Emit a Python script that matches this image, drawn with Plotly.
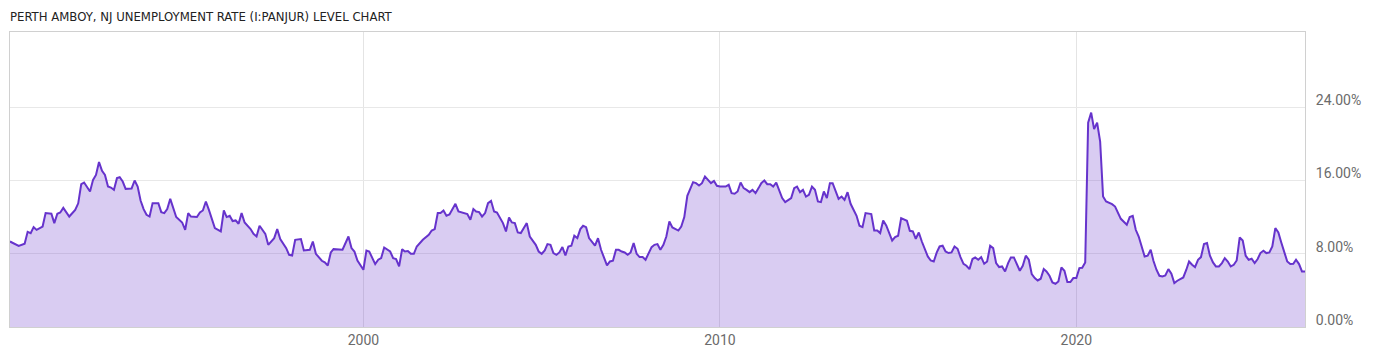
import plotly.graph_objects as go

# Monthly unemployment rate readings (percent)
dates = [
    "1990-02", "1990-04", "1990-05", "1990-07", "1990-08", "1990-09", "1990-10", "1990-11",
    "1991-01", "1991-02", "1991-04", "1991-05", "1991-06", "1991-07", "1991-08", "1991-10", "1991-12",
    "1992-01", "1992-02", "1992-03", "1992-05", "1992-06", "1992-07", "1992-08", "1992-09", "1992-10", "1992-11", "1992-12",
    "1993-01", "1993-02", "1993-03", "1993-04", "1993-05", "1993-07", "1993-08", "1993-09", "1993-10", "1993-11", "1993-12",
    "1994-01", "1994-02", "1994-04", "1994-05", "1994-06", "1994-07", "1994-08", "1994-09", "1994-10", "1994-12",
    "1995-01", "1995-02", "1995-03", "1995-05", "1995-06", "1995-07", "1995-08", "1995-09", "1995-11",
    "1996-01", "1996-02", "1996-03", "1996-04", "1996-05", "1996-06", "1996-07", "1996-08", "1996-09", "1996-11", "1996-12",
    "1997-01", "1997-02", "1997-04", "1997-05", "1997-07", "1997-08", "1997-09", "1997-11", "1997-12",
    "1998-01", "1998-02", "1998-04", "1998-05", "1998-07", "1998-08", "1998-09", "1998-11", "1998-12",
    "1999-01", "1999-02", "1999-03", "1999-06", "1999-08", "1999-09", "1999-10", "1999-11",
    "2000-01", "2000-02", "2000-03", "2000-05", "2000-06", "2000-07", "2000-08", "2000-10", "2000-11", "2000-12",
    "2001-01", "2001-02", "2001-03", "2001-04", "2001-05", "2001-06", "2001-07", "2001-09", "2001-10", "2001-11", "2001-12",
    "2002-01", "2002-02", "2002-03", "2002-04", "2002-05", "2002-06", "2002-08", "2002-09", "2002-11", "2002-12",
    "2003-01", "2003-02", "2003-03", "2003-04", "2003-05", "2003-06", "2003-07", "2003-08", "2003-09", "2003-10", "2003-12",
    "2004-01", "2004-02", "2004-03", "2004-04", "2004-05", "2004-06", "2004-07", "2004-08", "2004-09", "2004-11", "2004-12",
    "2005-01", "2005-02", "2005-03", "2005-04", "2005-05", "2005-06", "2005-07", "2005-08", "2005-09", "2005-10", "2005-11", "2005-12",
    "2006-01", "2006-02", "2006-03", "2006-04", "2006-05", "2006-07", "2006-08", "2006-09", "2006-11", "2006-12",
    "2007-01", "2007-02", "2007-03", "2007-04", "2007-05", "2007-06", "2007-07", "2007-08", "2007-09", "2007-10", "2007-11", "2007-12",
    "2008-01", "2008-02", "2008-03", "2008-04", "2008-05", "2008-06", "2008-07", "2008-08", "2008-09", "2008-10", "2008-11", "2008-12",
    "2009-01", "2009-02", "2009-04", "2009-05", "2009-06", "2009-07", "2009-08", "2009-09", "2009-10", "2009-11", "2009-12",
    "2010-01", "2010-03", "2010-04", "2010-05", "2010-06", "2010-07", "2010-08", "2010-09", "2010-10", "2010-11", "2010-12",
    "2011-01", "2011-02", "2011-03", "2011-04", "2011-05", "2011-06", "2011-07", "2011-08", "2011-09", "2011-10", "2011-11",
    "2012-01", "2012-02", "2012-03", "2012-04", "2012-05", "2012-06", "2012-07", "2012-08", "2012-09", "2012-10", "2012-11", "2012-12",
    "2013-01", "2013-02", "2013-03", "2013-05", "2013-06", "2013-07", "2013-08", "2013-09", "2013-11", "2013-12",
    "2014-01", "2014-02", "2014-04", "2014-05", "2014-06", "2014-07", "2014-08", "2014-09", "2014-10", "2014-11", "2014-12",
    "2015-01", "2015-02", "2015-03", "2015-04", "2015-05", "2015-06", "2015-07", "2015-08", "2015-09", "2015-10", "2015-11", "2015-12",
    "2016-01", "2016-02", "2016-03", "2016-04", "2016-05", "2016-06", "2016-07", "2016-08", "2016-09", "2016-10", "2016-11", "2016-12",
    "2017-01", "2017-02", "2017-03", "2017-04", "2017-05", "2017-06", "2017-07", "2017-08", "2017-09", "2017-10", "2017-11", "2017-12",
    "2018-01", "2018-02", "2018-03", "2018-04", "2018-05", "2018-06", "2018-07", "2018-08", "2018-09", "2018-10", "2018-11", "2018-12",
    "2019-01", "2019-02", "2019-03", "2019-04", "2019-05", "2019-06", "2019-07", "2019-08", "2019-09", "2019-10", "2019-11", "2019-12",
    "2020-01", "2020-02", "2020-03", "2020-04", "2020-05", "2020-06", "2020-07", "2020-08", "2020-09", "2020-10", "2020-11",
    "2021-01", "2021-02", "2021-03", "2021-04", "2021-06", "2021-07", "2021-08", "2021-09", "2021-10", "2021-11", "2021-12",
    "2022-01", "2022-02", "2022-03", "2022-04", "2022-05", "2022-06", "2022-07", "2022-08", "2022-09", "2022-10", "2022-11", "2022-12",
    "2023-01", "2023-02", "2023-03", "2023-04", "2023-05", "2023-06", "2023-07", "2023-08", "2023-09", "2023-10", "2023-11", "2023-12",
    "2024-01", "2024-02", "2024-03", "2024-04", "2024-05", "2024-06", "2024-07", "2024-08", "2024-09", "2024-10", "2024-11", "2024-12",
    "2025-01", "2025-02", "2025-03", "2025-04", "2025-05", "2025-06", "2025-07", "2025-08", "2025-09", "2025-10", "2025-11", "2025-12",
    "2026-01", "2026-02", "2026-03", "2026-04", "2026-05", "2026-06",
]

rates = [
    9.33, 8.97, 8.86, 9.08, 10.39, 10.25, 10.9, 10.6,
    10.97, 12.43, 12.36, 11.34, 12.36, 12.5, 13.0, 12.06, 12.79,
    13.5, 15.6, 15.77, 14.79, 16.06, 16.6, 18.0, 17.04, 16.6, 15.33, 15.22,
    14.97, 16.25, 16.35, 15.88, 15.08, 15.12, 15.99, 15.33, 13.81, 12.87, 12.25,
    12.06, 13.52, 13.52, 12.54, 12.43, 12.87, 13.99, 12.98, 12.0, 11.41,
    10.61, 12.43, 12.06, 12.0, 12.5, 12.72, 13.7, 12.79, 10.8,
    10.43, 12.72, 12.0, 12.14, 11.56, 11.63, 11.27, 12.43, 11.41, 10.69, 10.17,
    9.88, 11.05, 10.17, 8.97, 9.7, 10.69, 9.6, 8.61, 7.88,
    7.81, 9.52, 9.6, 8.35, 8.43, 9.33, 7.99, 7.23, 7.05,
    6.72, 8.14, 8.5, 8.43, 9.88, 8.61, 8.24, 7.26,
    6.25, 8.35, 8.24, 6.87, 7.34, 7.52, 8.68, 8.24, 7.52, 7.42,
    6.61, 8.5, 8.24, 8.29, 7.99, 7.99, 8.79, 9.52, 9.81, 10.07, 10.53,
    10.69, 12.43, 12.43, 12.72, 12.14, 12.28, 13.45, 12.61, 12.43, 12.32,
    11.7, 12.87, 12.61, 12.54, 12.06, 12.43, 13.52, 13.77, 12.61, 12.5, 11.34,
    10.43, 11.95, 11.41, 11.34, 10.32, 10.25, 10.8, 11.34, 9.88, 8.97, 8.24,
    7.99, 8.35, 9.05, 8.97, 8.07, 7.88, 8.14, 8.72, 7.81, 8.79, 8.87, 9.96,
    9.7, 10.69, 11.05, 10.9, 9.7, 8.87, 9.7, 8.43, 6.72, 7.15,
    7.23, 8.43, 8.43, 8.24, 8.14, 7.88, 8.14, 9.16, 7.99, 7.63, 7.63, 7.34,
    7.96, 8.72, 8.97, 9.05, 8.43, 8.97, 9.88, 11.52, 10.86, 10.72, 10.53, 10.97,
    12.0, 14.32, 15.81, 15.7, 15.44, 15.7, 16.42, 16.06, 15.7, 15.95, 15.41,
    15.33, 15.33, 15.52, 14.61, 14.54, 14.79, 15.77, 15.16, 14.97, 14.72, 14.97,
    14.61, 15.16, 15.7, 15.99, 15.59, 15.59, 15.33, 15.77, 14.79, 14.07, 13.63,
    14.07, 15.16, 15.33, 14.72, 14.97, 14.24, 14.43, 15.33, 14.97, 13.7, 13.63, 14.79,
    14.07, 15.7, 15.7, 13.99, 14.24, 13.88, 14.72, 13.45, 12.14, 11.05,
    10.9, 12.43, 12.32, 10.53, 10.53, 10.25, 11.63, 11.08, 10.2, 9.44, 9.81,
    9.96, 11.88, 11.7, 11.59, 10.5, 10.43, 9.63, 10.32, 9.33, 8.43, 7.7, 7.26,
    7.15, 8.14, 8.79, 8.87, 8.24, 8.07, 8.14, 8.79, 8.54, 7.63, 6.9, 6.68,
    6.32, 7.42, 7.59, 7.34, 7.63, 6.9, 7.15, 8.87, 8.61, 6.98, 6.54, 6.61,
    6.06, 6.98, 7.59, 7.59, 6.87, 6.14, 6.68, 7.78, 7.34, 5.78, 5.34, 5.08,
    5.27, 6.32, 6.06, 5.59, 4.86, 4.72, 4.97, 6.5, 6.14, 4.91, 4.91, 5.34,
    5.34, 6.43, 6.47, 7.05, 22.31, 23.4, 21.59, 22.31, 20.24, 14.24, 13.7,
    13.41, 13.15, 12.5, 11.81, 11.16, 12.0, 12.14, 10.61, 9.88, 8.79, 7.7,
    7.78, 8.43, 7.23, 6.25, 5.59, 5.52, 5.63, 6.32, 5.81, 4.8, 5.05, 5.27,
    5.41, 6.25, 7.15, 6.79, 6.54, 7.34, 7.63, 9.05, 9.16, 7.78, 7.05, 6.61,
    6.61, 6.98, 7.52, 7.15, 6.61, 6.79, 7.26, 9.77, 9.44, 7.78, 7.34, 7.45,
    6.98, 7.42, 8.07, 8.32, 8.07, 8.14, 8.79, 10.8, 10.32, 9.23, 8.14, 7.15,
    6.87, 6.9, 7.34, 6.87, 6.06, 6.06,
]

x_tick_vals = ["2000-01-01", "2010-01-01", "2020-01-01"]
x_tick_text = ["2000", "2010", "2020"]
y_tick_vals = [0, 8, 16, 24]
y_tick_text = ["0.00%", "8.00%", "16.00%", "24.00%"]

title_text = "PERTH AMBOY, NJ UNEMPLOYMENT RATE (I:PANJUR) LEVEL CHART"

fig = go.Figure()
fig.add_trace(go.Scatter(
    x=dates, y=rates, mode="lines",
    line=dict(color="#6633cc", width=2),
    fill="tozeroy", fillcolor="rgba(102,51,204,0.25)",
    hoverinfo="x+y", showlegend=False,
))

tick_font = dict(family="Roboto, sans-serif", size=14, color="#6b6b6b")

fig.update_layout(
    width=1400, height=357,
    margin=dict(l=10, r=95, t=32, b=30),
    paper_bgcolor="white", plot_bgcolor="white",
    title=dict(
        text=title_text, x=10 / 1400, xref="container", xanchor="left",
        y=1 - 16 / 357, yref="container", yanchor="middle",
        font=dict(family="DejaVu Sans Condensed, sans-serif", size=13, color="#222222"),
    ),
    xaxis=dict(
        type="date", range=[dates[0], dates[-1]],
        tickvals=x_tick_vals, ticktext=x_tick_text,
        showgrid=True, gridcolor="#e4e4e4", gridwidth=1,
        showline=True, linecolor="#d0d0d0", linewidth=1, mirror=True,
        ticks="", tickfont=tick_font, zeroline=False,
    ),
    yaxis=dict(
        side="right", range=[0, 32.2],
        tickvals=y_tick_vals, ticktext=y_tick_text,
        showgrid=True, gridcolor="#e8e8e8", gridwidth=1,
        showline=True, linecolor="#d0d0d0", linewidth=1, mirror=True,
        ticks="", tickfont=tick_font, zeroline=False,
        ticklabelshift=-7, ticklabelstandoff=7,
    ),
)

fig.write_html("out.html")
